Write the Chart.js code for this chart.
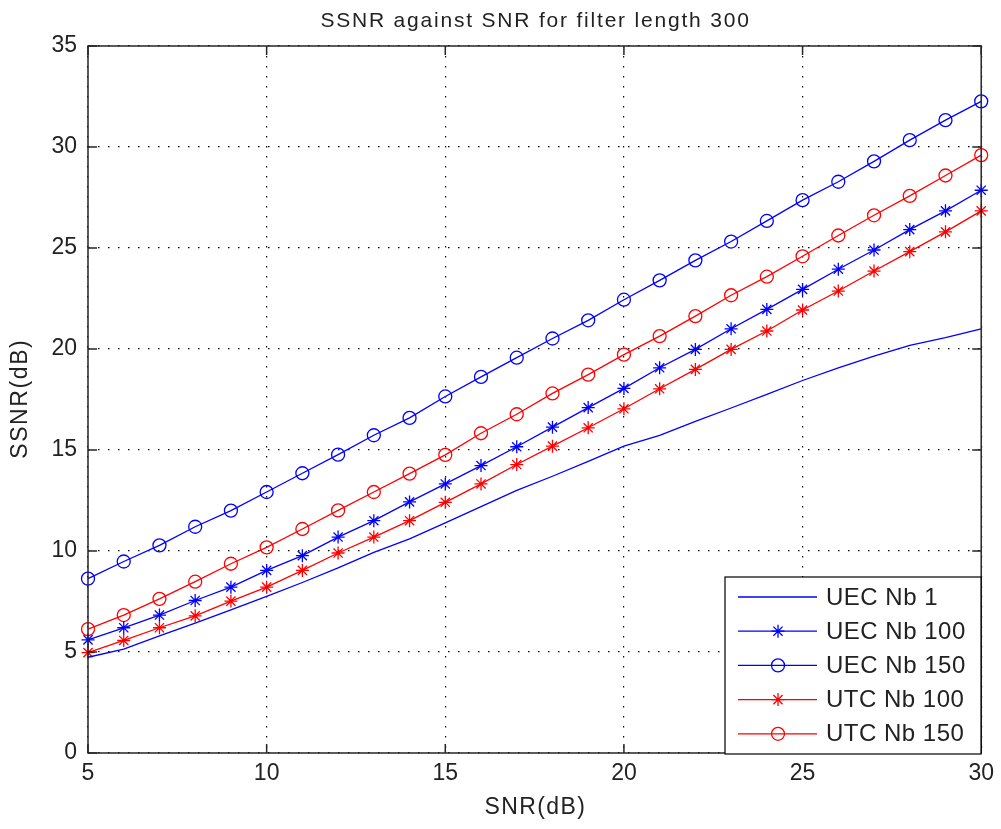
<!DOCTYPE html>
<html>
<head>
<meta charset="utf-8">
<script src="https://cdn.jsdelivr.net/npm/chart.js@4/dist/chart.umd.min.js"></script>
<style>
  html, body { margin: 0; padding: 0; background: #fff; }
  #wrap { width: 1001px; height: 829px; }
</style>
</head>
<body>
<div id="wrap"><canvas id="chart-ssnr"></canvas></div>
<script>
// SNR (dB) on the x axis
const snr = [5, 6, 7, 8, 9, 10, 11, 12, 13, 14, 15, 16, 17, 18, 19, 20, 21, 22, 23, 24, 25, 26, 27, 28, 29, 30];

// SSNR (dB) for each configuration
const uecNb1 = [4.74, 5.14, 5.80, 6.43, 7.09, 7.75, 8.44, 9.16, 9.93, 10.60, 11.39, 12.20, 13.00, 13.70, 14.44, 15.19, 15.72, 16.42, 17.08, 17.75, 18.44, 19.07, 19.65, 20.18, 20.56, 21.00];
const uecNb100 = [5.60, 6.20, 6.83, 7.55, 8.21, 9.04, 9.77, 10.69, 11.50, 12.43, 13.32, 14.23, 15.16, 16.13, 17.10, 18.05, 19.07, 19.98, 21.00, 21.96, 22.95, 23.95, 24.90, 25.91, 26.84, 27.86];
const uecNb150 = [8.63, 9.48, 10.28, 11.20, 12.00, 12.92, 13.85, 14.77, 15.73, 16.59, 17.65, 18.62, 19.57, 20.52, 21.42, 22.44, 23.40, 24.39, 25.32, 26.34, 27.37, 28.28, 29.29, 30.34, 31.33, 32.26];
const utcNb100 = [4.97, 5.57, 6.20, 6.79, 7.52, 8.21, 9.04, 9.90, 10.69, 11.50, 12.41, 13.32, 14.28, 15.19, 16.10, 17.04, 18.03, 18.99, 19.98, 20.89, 21.93, 22.87, 23.86, 24.82, 25.80, 26.84];
const utcNb150 = [6.13, 6.83, 7.63, 8.48, 9.37, 10.18, 11.09, 12.01, 12.92, 13.83, 14.76, 15.83, 16.77, 17.80, 18.73, 19.72, 20.64, 21.63, 22.66, 23.58, 24.59, 25.62, 26.62, 27.58, 28.59, 29.60];

const seriesNames = ['UEC Nb 1', 'UEC Nb 100', 'UEC Nb 150', 'UTC Nb 100', 'UTC Nb 150'];
const seriesValues = [uecNb1, uecNb100, uecNb150, utcNb100, utcNb150];
const seriesColors = ['#0000ff', '#0000ff', '#0000ff', '#ff0000', '#ff0000'];
const seriesMarkers = [false, 'star', 'circle', 'star', 'circle'];

const titleText = 'SSNR against SNR for filter length 300';
const xLabel = 'SNR(dB)';
const yLabel = 'SSNR(dB)';

const fontFamily = '"Liberation Sans", Arial, sans-serif';
const textColor = '#222';

function toPoints(values) {
  return snr.map((x, i) => ({ x: x, y: values[i] }));
}

const datasets = seriesValues.map((values, i) => ({
  label: seriesNames[i],
  data: toPoints(values),
  borderColor: seriesColors[i],
  borderWidth: 1.3,
  pointStyle: seriesMarkers[i] || 'circle',
  pointRadius: seriesMarkers[i] ? 6.5 : 0,
  pointBorderColor: seriesColors[i],
  pointBackgroundColor: 'rgba(0,0,0,0)',
  pointBorderWidth: 1.3,
  tension: 0,
  clip: false
}));

function spacedText(ctx, text, x, y, spacing) {
  ctx.letterSpacing = spacing + 'px';
  ctx.fillText(text, x + spacing / 2, y);
  ctx.letterSpacing = '0px';
}

// box round the axes, inward ticks, titles and the legend inside the plot
const matlabFrame = {
  id: 'matlabFrame',
  afterDraw(chart) {
    const ctx = chart.ctx;
    const a = chart.chartArea;
    const xs = chart.scales.x;
    const ys = chart.scales.y;
    ctx.save();

    ctx.strokeStyle = '#262626';
    ctx.lineWidth = 1.5;
    ctx.strokeRect(a.left, a.top, a.right - a.left, a.bottom - a.top);
    ctx.beginPath();
    xs.ticks.forEach(t => {
      const px = xs.getPixelForValue(t.value);
      ctx.moveTo(px, a.bottom); ctx.lineTo(px, a.bottom - 9);
      ctx.moveTo(px, a.top); ctx.lineTo(px, a.top + 9);
    });
    ys.ticks.forEach(t => {
      const py = ys.getPixelForValue(t.value);
      ctx.moveTo(a.left, py); ctx.lineTo(a.left + 9, py);
      ctx.moveTo(a.right, py); ctx.lineTo(a.right - 9, py);
    });
    ctx.stroke();

    ctx.fillStyle = textColor;
    ctx.textAlign = 'center';
    ctx.textBaseline = 'middle';
    ctx.font = '21px ' + fontFamily;
    spacedText(ctx, titleText, (a.left + a.right) / 2, 21, 1.8);
    ctx.font = '23px ' + fontFamily;
    spacedText(ctx, xLabel, (a.left + a.right) / 2, 808, 1.4);
    ctx.save();
    ctx.translate(21, (a.top + a.bottom) / 2);
    ctx.rotate(-Math.PI / 2);
    spacedText(ctx, yLabel, 0, 0, 1.6);
    ctx.restore();

    // legend
    const lx = 725, ly = 577, lw = 256, lh = 177;
    ctx.fillStyle = '#fff';
    ctx.fillRect(lx, ly, lw, lh);
    ctx.strokeStyle = '#000';
    ctx.lineWidth = 1.2;
    ctx.strokeRect(lx, ly, lw, lh);
    ctx.font = '24px ' + fontFamily;
    ctx.textAlign = 'left';
    chart.data.datasets.forEach((ds, i) => {
      const ry = 597 + i * 34.2;
      ctx.strokeStyle = ds.borderColor;
      ctx.lineWidth = 1.3;
      ctx.beginPath();
      ctx.moveTo(738, ry); ctx.lineTo(817, ry);
      ctx.stroke();
      if (seriesMarkers[i]) {
        ctx.fillStyle = 'rgba(0,0,0,0)';
        Chart.helpers.drawPoint(ctx, {
          pointStyle: seriesMarkers[i], radius: 6.5, borderWidth: 1.3, rotation: 0
        }, 778, ry);
      }
      ctx.fillStyle = textColor;
      ctx.letterSpacing = '0.5px';
      ctx.fillText(ds.label, 826, ry + 1);
      ctx.letterSpacing = '0px';
    });

    ctx.restore();
  }
};

new Chart(document.getElementById('chart-ssnr'), {
  type: 'line',
  data: { datasets: datasets },
  plugins: [matlabFrame],
  options: {
    responsive: true,
    maintainAspectRatio: false,
    animation: false,
    layout: { padding: { top: 46, right: 19, left: 0, bottom: 0 } },
    plugins: {
      legend: { display: false },
      title: { display: false },
      tooltip: { enabled: false }
    },
    scales: {
      x: {
        type: 'linear',
        min: 5,
        max: 30,
        afterFit: s => { s.height = 76; },
        ticks: { stepSize: 5, color: textColor, padding: 7, font: { size: 23, family: fontFamily } },
        grid: { color: '#000', lineWidth: 1.2, drawTicks: false },
        border: { display: false, dash: [1.5, 8.5] }
      },
      y: {
        min: 0,
        max: 35,
        afterFit: s => { s.width = 88; },
        ticks: { stepSize: 5, color: textColor, padding: 11, font: { size: 23, family: fontFamily } },
        grid: { color: '#000', lineWidth: 1.2, drawTicks: false },
        border: { display: false, dash: [1.5, 8.5] }
      }
    }
  }
});
</script>
</body>
</html>
